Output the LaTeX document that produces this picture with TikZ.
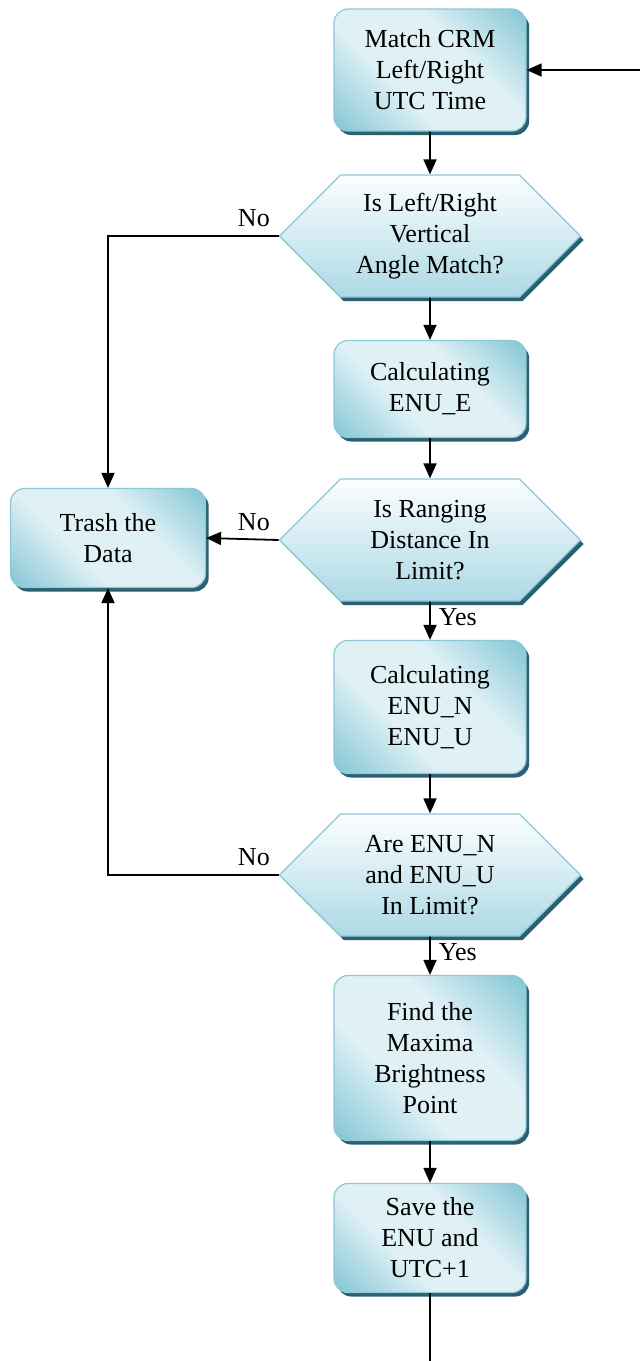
\documentclass[tikz,border=0pt]{standalone}
\usepackage{fontspec}
\setmainfont{Liberation Serif}
\usepackage{tikz}
\usetikzlibrary{arrows.meta,shapes.symbols,shadows}
\definecolor{boxdk}{RGB}{136,200,214}
\definecolor{boxlt}{RGB}{224,241,246}
\definecolor{hextop}{RGB}{252,254,255}
\definecolor{hexbot}{RGB}{172,217,229}
\definecolor{edgeblue}{RGB}{140,200,214}
\definecolor{shadeblue}{RGB}{42,96,112}
\pgfdeclareverticalshading{boxshade}{100bp}{color(0bp)=(boxdk); color(16bp)=(boxdk);
  color(39bp)=(boxlt); color(61bp)=(boxlt); color(84bp)=(boxdk); color(100bp)=(boxdk)}

\begin{document}
\begin{tikzpicture}[
  x=0.5pt,y=-0.5pt,
  font=\fontsize{13}{15.5}\selectfont,
  box/.style={draw=edgeblue,line width=0.6pt,rounded corners=7pt,align=center,
              minimum width=96pt,inner sep=2pt,
              shading=boxshade,shading angle=-45,
              drop shadow={shadow xshift=1.6pt,shadow yshift=-2pt,fill=shadeblue,opacity=1}},
  test/.style={signal,signal to=west and east,signal pointer angle=90,
               draw=edgeblue,line width=0.6pt,align=center,
               minimum width=150.5pt,minimum height=61pt,inner sep=1pt,
               top color=hextop,bottom color=hexbot,
               drop shadow={shadow xshift=1.6pt,shadow yshift=-2pt,fill=shadeblue,opacity=1}},
  arr/.style={-{Triangle[length=7.5pt,width=6.5pt]},line width=0.9pt,draw=black},
  lbl/.style={inner sep=4pt}
]
\useasboundingbox (0,0) rectangle (640,1361);
% ---------- main column ----------
\node[box,minimum height=61pt]   (match) at (430,70)   {Match CRM\\Left/Right\\UTC Time};
\node[test]                      (qang)  at (430,236)  {Is Left/Right\\Vertical\\Angle Match?};
\node[box,minimum height=48.5pt] (enue)  at (430,389)  {Calculating\\ENU\_E};
\node[test]                      (qdist) at (430,540)  {Is Ranging\\Distance In\\Limit?};
\node[box,minimum height=66.5pt] (enunu) at (430,707)  {Calculating\\ENU\_N\\ENU\_U};
\node[test]                      (qlim)  at (430,875)  {Are ENU\_N\\and ENU\_U\\In Limit?};
\node[box,minimum height=82.5pt] (maxb)  at (430,1058) {Find the\\Maxima\\Brightness\\Point};
\node[box,minimum height=54.5pt] (save)  at (430,1238) {Save the\\ENU and\\UTC+1};
% ---------- side box ----------
\node[box,minimum width=97.5pt,minimum height=49.5pt] (trash) at (108,538) {Trash the\\Data};
\coordinate (loopin) at (640,70);
\coordinate (loopout) at (430,1361);
% ---------- connectors ----------
\draw[arr] (loopin) -- (match);
\draw[arr] (match) -- (qang);
\draw[arr] (qang) -- (enue);
\draw[arr] (enue) -- (qdist);
\draw[arr] (qdist) -- node[lbl,right,pos=0.4]{Yes} (enunu);
\draw[arr] (enunu) -- (qlim);
\draw[arr] (qlim) -- node[lbl,right,pos=0.4]{Yes} (maxb);
\draw[arr] (maxb) -- (save);
\draw[line width=0.9pt] (save) -- (loopout);
\draw[arr] (qang.west) -| node[lbl,above left,pos=0]{No} (trash.north);
\draw[arr] (qdist.west) -- node[lbl,above left,pos=0]{No} (trash.east);
\draw[arr] (qlim.west) -| node[lbl,above left,pos=0]{No} (trash.south);
\end{tikzpicture}
\end{document}
